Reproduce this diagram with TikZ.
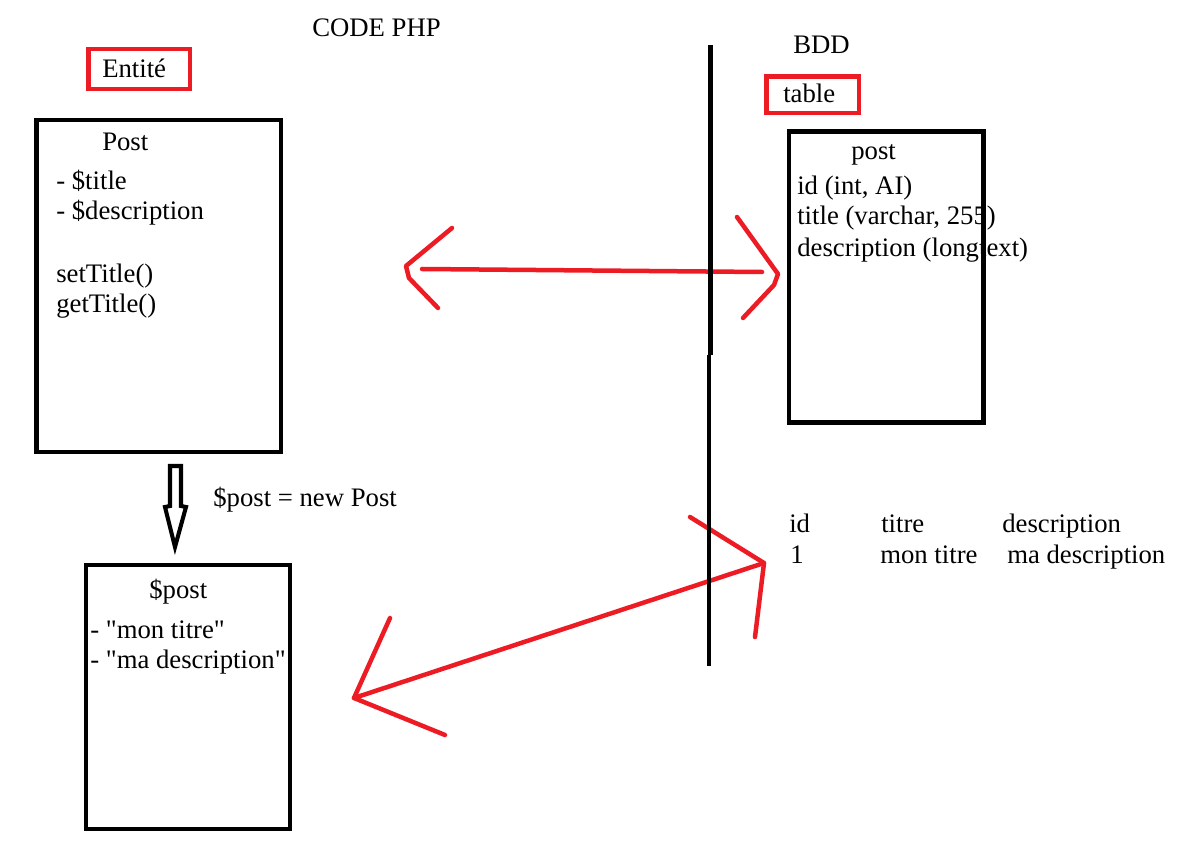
\documentclass[tikz,border=0pt]{standalone}
\usepackage{fontspec}
\setmainfont{Liberation Serif}[Ligatures=TeXOff]
\usetikzlibrary{fit}
\definecolor{pred}{RGB}{237,28,36}
\begin{document}
\begin{tikzpicture}[x=0.025cm,y=-0.025cm,
  txt/.style={anchor=base west, inner sep=0pt, yshift=-0.04cm, font=\fontsize{19}{22}\selectfont},
  blackbox/.style={draw=black, line width=3.5pt, inner sep=0pt},
  redbox/.style={draw=pred, line width=3.5pt, inner sep=0pt},
  redline/.style={draw=pred, line width=3.2pt, line cap=round, line join=round},
  divider/.style={draw=black, line width=2.9pt},
  hollow/.style={draw=black, line width=2.9pt, line join=miter}]
\fill[white] (0,0) rectangle (1184,845);
\useasboundingbox (0,0) rectangle (1184,845);

% red arrows (under the divider)
\coordinate (a1s) at (422,269);
\coordinate (a1e) at (762,272);
\coordinate (a1l) at (406,266);
\coordinate (a1r) at (778,274);
\draw[redline] (a1s) -- (a1e);
\draw[redline] (452,228) -- (a1l) -- (409,278) -- (438,308);
\draw[redline] (737,217) -- (a1r) -- (774,285) -- (743,318);

\coordinate (a2l) at (354,698);
\coordinate (a2r) at (764,563);
\draw[redline] (a2r) -- (a2l);
\draw[redline] (390,618) -- (a2l) -- (445,735);
\draw[redline] (690,517) -- (a2r) -- (755,637);

% divider
\coordinate (d1) at (710.5,45);
\coordinate (d2) at (710.5,355);
\coordinate (d3) at (709.3,355);
\coordinate (d4) at (709.3,666);
\draw[divider] (d1) -- (d2);
\draw[divider] (d3) -- (d4);

% texts
\node[txt] (codephp) at (312,35) {CODE PHP};
\node[txt] (bdd) at (793,52) {BDD};
\node[txt] (entite) at (102,76) {Entité};
\node[txt] (posttitle) at (102,149) {Post};
\node[txt] (ptitle) at (56,188) {- \$title};
\node[txt] (pdesc) at (56,218) {- \$description};
\node[txt] (pset) at (56,281) {setTitle()};
\node[txt] (pget) at (56,311) {getTitle()};
\node[txt] (newpost) at (213,505) {\$post = new Post};
\node[txt] (objtitle) at (149,597) {\$post};
\node[txt] (objt) at (90,637) {- "mon titre"};
\node[txt] (objd) at (90,667) {- "ma description"};

\node[txt] (table) at (783,101) {table};
\node[txt] (tpost) at (851,158) {post};
\node[txt] (tid) at (797,193) {id (int, AI)};
\node[txt] (ttitle) at (797,223) {title (varchar, 255)};
\node[txt] (tdesc) at (797,255) {description (longtext)};

\node[txt] (hid) at (789,531) {id};
\node[txt] (htitre) at (881,531) {titre};
\node[txt] (hdesc) at (1002,531) {description};
\node[txt] (r1) at (790,562) {1};
\node[txt] (rtitre) at (880,562) {mon titre};
\node[txt] (rdesc) at (1007,562) {ma description};

% boxes
\coordinate (e1) at (88.5,49);   \coordinate (e2) at (190,89);
\node[redbox, fit=(e1)(e2)] (entitebox) {};
\coordinate (t1) at (766.5,76.5); \coordinate (t2) at (859,113);
\node[redbox, fit=(t1)(t2)] (tablebox) {};
\coordinate (p1) at (36.5,120);  \coordinate (p2) at (281,452);
\node[blackbox, fit=(p1)(p2)] (postbox) {};
\coordinate (q1) at (789,131.5); \coordinate (q2) at (983.5,422.5);
\node[blackbox, fit=(q1)(q2)] (tpostbox) {};
\coordinate (o1) at (86,565);    \coordinate (o2) at (290,829);
\node[blackbox, fit=(o1)(o2)] (objbox) {};

% hollow arrow
\coordinate (h1) at (170,466);
\coordinate (h2) at (181,466);
\coordinate (htip) at (175,547);
\draw[hollow] (h1) -- (h2) -- (181,506) -- (186,507) -- (htip) -- (165,507) -- (170,506) -- cycle;
\end{tikzpicture}
\end{document}
